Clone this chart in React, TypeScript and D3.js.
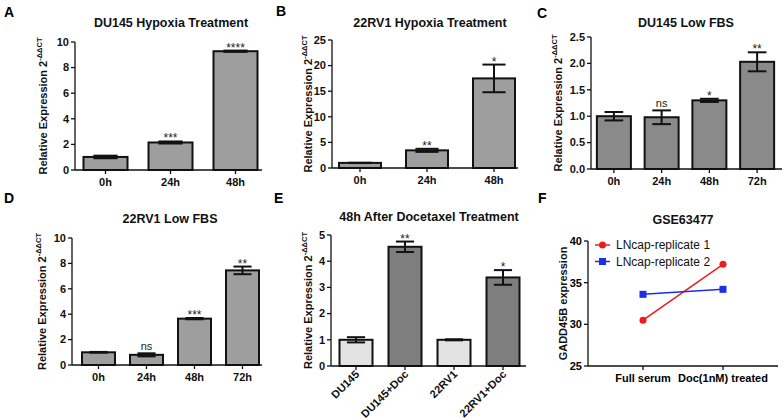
import React from "react";
import * as d3 from "d3";

// ---- Data ----
const catsA = ["0h", "24h", "48h"];
const valsA = [1.02, 2.15, 9.28];
const errA = [0.1, 0.08, 0.05];
const sigA = ["", "***", "****"];
const ticksA = [0, 2, 4, 6, 8, 10];

const catsB = ["0h", "24h", "48h"];
const valsB = [1.0, 3.45, 17.5];
const errB = [0.03, 0.3, 2.7];
const sigB = ["", "**", "*"];
const ticksB = [0, 5, 10, 15, 20, 25];

const catsC = ["0h", "24h", "48h", "72h"];
const valsC = [1.0, 0.98, 1.3, 2.03];
const errC = [0.08, 0.13, 0.03, 0.18];
const sigC = ["", "ns", "*", "**"];
const ticksC = [0, 0.5, 1.0, 1.5, 2.0, 2.5];

const catsD = ["0h", "24h", "48h", "72h"];
const valsD = [1.0, 0.8, 3.65, 7.45];
const errD = [0.03, 0.12, 0.05, 0.3];
const sigD = ["", "ns", "***", "**"];
const ticksD = [0, 2, 4, 6, 8, 10];

const catsE = ["DU145", "DU145+Doc", "22RV1", "22RV1+Doc"];
const valsE = [1.0, 4.55, 1.0, 3.38];
const errE = [0.1, 0.2, 0.02, 0.28];
const sigE = ["", "**", "", "*"];
const ticksE = [0, 1, 2, 3, 4, 5];

const catsF = ["Full serum", "Doc(1nM) treated"];
const rep1F = [30.5, 37.2];
const rep2F = [33.6, 34.2];
const seriesF = ["LNcap-replicate 1", "LNcap-replicate 2"];
const ticksF = [25, 30, 35, 40];

const FONT = "'Liberation Sans', Arial, sans-serif";

type BarProps = {
  letter: string;
  letterX: number;
  letterY: number;
  title: string;
  titleX: number;
  titleY: number;
  cats: string[];
  vals: number[];
  errs: number[];
  sigs: string[];
  ticks: number[];
  domain: [number, number];
  axisX: number;
  axisEnd: number;
  rangeX: [number, number];
  yTop: number;
  yBottom: number;
  barW: number;
  fills: string[];
  tickFmt: (v: number) => string;
  labelX: number;
  rotateLabels?: boolean;
};

function YLabel({ x, y }: { x: number; y: number }) {
  return (
    <text
      transform={`translate(${x},${y}) rotate(-90)`}
      textAnchor="middle"
      fontFamily={FONT}
      fontWeight="bold"
      fontSize={11}
      fill="#111"
    >
      Relative Expression 2
      <tspan fontSize={7.5} dy={-5}>
        -ΔΔCT
      </tspan>
    </text>
  );
}

function BarPanel(p: BarProps) {
  const y = d3.scaleLinear().domain(p.domain).range([p.yBottom, p.yTop]);
  const x = d3.scalePoint<string>().domain(p.cats).range(p.rangeX).padding(0.5);
  const capW = p.barW * 0.55;
  return (
    <g>
      <text x={p.letterX} y={p.letterY} fontFamily={FONT} fontWeight="bold" fontSize={14} fill="#000">
        {p.letter}
      </text>
      <text x={p.titleX} y={p.titleY} textAnchor="middle" fontFamily={FONT} fontWeight="bold" fontSize={12.5} fill="#111">
        {p.title}
      </text>
      {/* bars */}
      {p.cats.map((c, i) => {
        const cx = x(c)!;
        const top = y(p.vals[i]);
        return (
          <rect
            key={c}
            x={cx - p.barW / 2}
            y={top}
            width={p.barW}
            height={p.yBottom - top}
            fill={p.fills[i % p.fills.length]}
            stroke="#111"
            strokeWidth={2}
          />
        );
      })}
      {/* error bars */}
      {p.cats.map((c, i) => {
        const cx = x(c)!;
        const hi = y(p.vals[i] + p.errs[i]);
        const lo = y(p.vals[i] - p.errs[i]);
        return (
          <g key={"e" + c} stroke="#111" strokeWidth={2}>
            <line x1={cx} x2={cx} y1={hi} y2={lo} />
            <line x1={cx - capW / 2} x2={cx + capW / 2} y1={hi} y2={hi} />
            <line x1={cx - capW / 2} x2={cx + capW / 2} y1={lo} y2={lo} />
          </g>
        );
      })}
      {/* significance */}
      {p.cats.map((c, i) =>
        p.sigs[i] ? (
          <text
            key={"s" + c}
            x={x(c)!}
            y={y(p.vals[i] + p.errs[i]) + (p.sigs[i] === "ns" ? -3 : 1)}
            textAnchor="middle"
            fontFamily={FONT}
            fontSize={p.sigs[i] === "ns" ? 11 : 12}
            fill="#222"
          >
            {p.sigs[i]}
          </text>
        ) : null
      )}
      {/* axes */}
      <line x1={p.axisX} x2={p.axisX} y1={p.yTop} y2={p.yBottom} stroke="#111" strokeWidth={1.3} />
      <line x1={p.axisX} x2={p.axisEnd} y1={p.yBottom} y2={p.yBottom} stroke="#111" strokeWidth={1.3} />
      {p.ticks.map((t) => (
        <g key={"t" + t}>
          <line x1={p.axisX - 4} x2={p.axisX} y1={y(t)} y2={y(t)} stroke="#111" strokeWidth={1.3} />
          <text
            x={p.axisX - 6}
            y={y(t)}
            dy="0.35em"
            textAnchor="end"
            fontFamily={FONT}
            fontWeight="bold"
            fontSize={11}
            fill="#111"
          >
            {p.tickFmt(t)}
          </text>
        </g>
      ))}
      {p.cats.map((c) => (
        <g key={"x" + c}>
          <line x1={x(c)!} x2={x(c)!} y1={p.yBottom} y2={p.yBottom + 4} stroke="#111" strokeWidth={1.3} />
          {p.rotateLabels ? (
            <text
              transform={`translate(${x(c)! + 4},${p.yBottom + 9}) rotate(-45)`}
              textAnchor="end"
              fontFamily={FONT}
              fontWeight="bold"
              fontSize={11}
              fill="#111"
            >
              {c}
            </text>
          ) : (
            <text
              x={x(c)!}
              y={p.yBottom + 16}
              textAnchor="middle"
              fontFamily={FONT}
              fontWeight="bold"
              fontSize={11}
              fill="#111"
            >
              {c}
            </text>
          )}
        </g>
      ))}
      <YLabel x={p.labelX} y={(p.yTop + p.yBottom) / 2} />
    </g>
  );
}

function LinePanel() {
  const axisX = 588;
  const yTop = 241;
  const yBottom = 366;
  const y = d3.scaleLinear().domain([25, 40]).range([yBottom, yTop]);
  const x = d3.scalePoint<string>().domain(catsF).range([643, 723]);
  const line = d3
    .line<number>()
    .x((_, i) => x(catsF[i])!)
    .y((d) => y(d));
  const colors = ["#ee1c1c", "#1c2ee8"];
  const data = [rep1F, rep2F];
  return (
    <g>
      <text x={538} y={203} fontFamily={FONT} fontWeight="bold" fontSize={14}>
        F
      </text>
      <text x={683} y={224} textAnchor="middle" fontFamily={FONT} fontWeight="bold" fontSize={12.5} fill="#111">
        GSE63477
      </text>
      {data.map((d, k) => (
        <g key={k}>
          <path d={line(d) || ""} fill="none" stroke={colors[k]} strokeWidth={1.5} />
          {d.map((v, i) =>
            k === 0 ? (
              <circle key={i} cx={x(catsF[i])!} cy={y(v)} r={3.5} fill={colors[k]} />
            ) : (
              <rect key={i} x={x(catsF[i])! - 3.5} y={y(v) - 3.5} width={7} height={7} fill={colors[k]} />
            )
          )}
        </g>
      ))}
      {/* legend */}
      {seriesF.map((s, k) => {
        const ly = 245 + k * 16.5;
        return (
          <g key={s}>
            <line x1={595} x2={610} y1={ly} y2={ly} stroke={colors[k]} strokeWidth={1.5} />
            {k === 0 ? (
              <circle cx={602.5} cy={ly} r={3.5} fill={colors[k]} />
            ) : (
              <rect x={599} y={ly - 3.5} width={7} height={7} fill={colors[k]} />
            )}
            <text x={616} y={ly} dy="0.35em" fontFamily={FONT} fontSize={12} fill="#111">
              {s}
            </text>
          </g>
        );
      })}
      <line x1={axisX} x2={axisX} y1={yTop} y2={yBottom} stroke="#111" strokeWidth={1.3} />
      <line x1={axisX} x2={778} y1={yBottom} y2={yBottom} stroke="#111" strokeWidth={1.3} />
      {ticksF.map((t) => (
        <g key={t}>
          <line x1={axisX - 4} x2={axisX} y1={y(t)} y2={y(t)} stroke="#111" strokeWidth={1.3} />
          <text x={axisX - 6} y={y(t)} dy="0.35em" textAnchor="end" fontFamily={FONT} fontWeight="bold" fontSize={11}>
            {t}
          </text>
        </g>
      ))}
      {catsF.map((c) => (
        <g key={c}>
          <line x1={x(c)!} x2={x(c)!} y1={yBottom} y2={yBottom + 4} stroke="#111" strokeWidth={1.3} />
          <text x={x(c)!} y={yBottom + 16} textAnchor="middle" fontFamily={FONT} fontWeight="bold" fontSize={11}>
            {c}
          </text>
        </g>
      ))}
      <text
        transform={`translate(567,${(yTop + yBottom) / 2}) rotate(-90)`}
        textAnchor="middle"
        fontFamily={FONT}
        fontWeight="bold"
        fontSize={11}
        fill="#111"
      >
        GADD45B expression
      </text>
    </g>
  );
}

const intFmt = (v: number) => String(v);
const decFmt = (v: number) => v.toFixed(1);

export default function App() {
  return (
    <svg
      width={784}
      height={420}
      viewBox="0 0 784 420"
      style={{ position: "absolute", left: 0, top: 0, background: "#fff" }}
    >
      <rect width={784} height={420} fill="#fff" />
      <BarPanel
        letter="A" letterX={4} letterY={17}
        title="DU145 Hypoxia Treatment" titleX={171} titleY={27}
        cats={catsA} vals={valsA} errs={errA} sigs={sigA} ticks={ticksA}
        domain={[0, 10]} axisX={75} axisEnd={262} rangeX={[73, 268]}
        yTop={42} yBottom={170} barW={44}
        fills={["#9e9e9e"]} tickFmt={intFmt} labelX={47}
      />
      <BarPanel
        letter="B" letterX={276} letterY={16}
        title="22RV1  Hypoxia Treatment" titleX={430} titleY={27}
        cats={catsB} vals={valsB} errs={errB} sigs={sigB} ticks={ticksB}
        domain={[0, 25]} axisX={332} axisEnd={518} rangeX={[326.5, 527.5]}
        yTop={40} yBottom={168} barW={42}
        fills={["#9e9e9e"]} tickFmt={intFmt} labelX={312}
      />
      <BarPanel
        letter="C" letterX={537} letterY={18}
        title="DU145 Low FBS" titleX={686} titleY={27}
        cats={catsC} vals={valsC} errs={errC} sigs={sigC} ticks={ticksC}
        domain={[0, 2.5]} axisX={591} axisEnd={782} rangeX={[590, 781]}
        yTop={37} yBottom={169} barW={34}
        fills={["#8a8a8a"]} tickFmt={decFmt} labelX={562}
      />
      <BarPanel
        letter="D" letterX={4} letterY={203}
        title="22RV1 Low FBS" titleX={170} titleY={223}
        cats={catsD} vals={valsD} errs={errD} sigs={sigD} ticks={ticksD}
        domain={[0, 10]} axisX={72} axisEnd={262} rangeX={[74.5, 266.5]}
        yTop={238} yBottom={365} barW={33}
        fills={["#9e9e9e"]} tickFmt={intFmt} labelX={46}
      />
      <BarPanel
        letter="E" letterX={274} letterY={203}
        title="48h After Docetaxel Treatment" titleX={429} titleY={221}
        cats={catsE} vals={valsE} errs={errE} sigs={sigE} ticks={ticksE}
        domain={[0, 5]} axisX={331} axisEnd={526} rangeX={[331.5, 527.5]}
        yTop={235} yBottom={366} barW={33}
        fills={["#e3e3e3", "#7e7e7e"]} tickFmt={intFmt} labelX={312}
        rotateLabels
      />
      <LinePanel />
    </svg>
  );
}
